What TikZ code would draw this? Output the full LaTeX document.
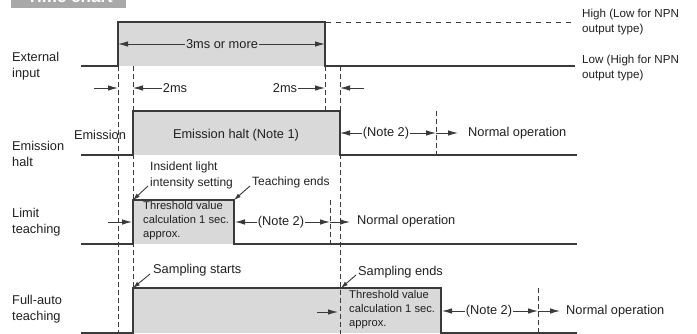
\documentclass[tikz,border=0pt]{standalone}
\usepackage{fontspec}
\setmainfont{Liberation Sans}
\usetikzlibrary{arrows.meta,positioning}
\definecolor{inkline}{HTML}{3A3A3A}
\definecolor{inktext}{HTML}{231F20}
\definecolor{haltfill}{HTML}{D9D9D9}
\definecolor{titlegray}{HTML}{A8A8A8}
\tikzset{
  wave/.style={draw=inkline, line width=1.2pt, line join=miter},
  timemark/.style={draw=inkline, line width=0.9pt, dash pattern=on 5pt off 3pt},
  dimarrow/.style={-{Latex[length=10pt,width=5.5pt]}, draw=inkline, line width=0.9pt},
  pointer/.style={-{Latex[length=7pt,width=4.5pt]}, draw=inkline, line width=0.9pt},
  rowlabel/.style={font=\fontsize{12.8}{16}\selectfont, text=inktext, align=left, anchor=west, inner sep=0pt},
  bodytext/.style={font=\fontsize{12.8}{16}\selectfont, text=inktext, inner sep=0.8pt},
  smalltext/.style={font=\fontsize{11.2}{14}\selectfont, text=inktext, align=left, anchor=west, inner sep=0pt},
  calloutext/.style={font=\fontsize{12}{16}\selectfont, text=inktext, align=left, anchor=west, inner sep=0pt},
}
\begin{document}
\begin{tikzpicture}[x=1pt, y=-1pt]
  \useasboundingbox (0,0) rectangle (697,334);
  % title tab, cut by the top edge
  \fill[titlegray] (11,-24) rectangle (126,8);
  \node[font=\fontsize{17}{20}\bfseries, text=white, anchor=base, inner sep=0pt] (title) at (70,3) {Time chart};

  % grey levels
  \fill[haltfill] (118,22) rectangle (325,66);
  \fill[haltfill] (133,111) rectangle (340,155);
  \fill[haltfill] (133,200) rectangle (234,244);
  \fill[haltfill] (133,288) rectangle (441,333);

  % timing marks
  \foreach \x/\ya/\yb in {118/66/334, 133/66/334, 325/66/111, 340/66/334, 436/111/155, 330/200/244, 538/288/333}
    \draw[timemark] (\x,\ya) -- (\x,\yb);

  % waveforms
  \draw[wave] (81,66) -- (118,66) -- (118,22) -- (325,22) -- (325,66) -- (575,66);
  \draw[draw=inkline, line width=0.9pt, dash pattern=on 5pt off 5pt] (326,22) -- (575,22);
  \draw[wave] (81,155) -- (133,155) -- (133,111) -- (340,111) -- (340,155) -- (577,155);
  \draw[wave] (81,244) -- (133,244) -- (133,200) -- (234,200) -- (234,244) -- (577,244);
  \draw[wave] (81,333) -- (133,333) -- (133,288) -- (441,288) -- (441,333) -- (577,333);

  % row labels
  \node[rowlabel] (extin) at (12,66) {External\\input};
  \node[rowlabel] (emhalt) at (12,154) {Emission\\halt};
  \node[rowlabel] (limteach) at (12,222) {Limit\\teaching};
  \node[rowlabel] (fullteach) at (12,309) {Full-auto\\teaching};
  \node[smalltext, font=\fontsize{11.6}{15}\selectfont] (highlvl) at (582,22) {High (Low for NPN\\output type)};
  \node[smalltext, font=\fontsize{11.6}{15}\selectfont] (lowlvl) at (582,68) {Low (High for NPN\\output type)};

  % external input
  \coordinate (inA) at (118,44);
  \coordinate (inB) at (325,44);
  \node[bodytext] (threems) at (222,44) {3ms or more};
  \draw[dimarrow] (threems) -- (inA);
  \draw[dimarrow] (threems) -- (inB);
  \coordinate (dA0) at (94,88);
  \coordinate (dA1) at (118,88);
  \coordinate (dB1) at (133,88);
  \coordinate (dC1) at (325,88);
  \coordinate (dD0) at (364,88);
  \coordinate (dD1) at (340,88);
  \node[bodytext] (twomsL) at (175,88) {2ms};
  \node[bodytext] (twomsR) at (285,88) {2ms};
  \draw[dimarrow] (dA0) -- (dA1);
  \draw[dimarrow] (twomsL) -- (dB1);
  \draw[dimarrow] (twomsR) -- (dC1);
  \draw[dimarrow] (dD0) -- (dD1);

  % emission halt
  \node[bodytext] (emis) at (100,135) {Emission};
  \node[bodytext] (emnote) at (236,135) {Emission halt (Note 1)};
  \coordinate (emA) at (340,133);
  \coordinate (emB) at (436,133);
  \coordinate (emC) at (458,133);
  \node[bodytext] (emwait) at (386,133) {(Note 2)};
  \draw[dimarrow] (emwait) -- (emA);
  \draw[dimarrow] (emwait) -- (emB);
  \draw[dimarrow] (emB) -- (emC);
  \node[bodytext, anchor=west, inner sep=0pt] (emnorm) at (468,133) {Normal operation};

  % limit teaching
  \coordinate (ltA) at (133,200);
  \coordinate (ltB) at (234,200);
  \coordinate (ltin0) at (108,222);
  \coordinate (ltin1) at (132,222);
  \draw[dimarrow] (ltin0) -- (ltin1);
  \node[smalltext] (ltcalc) at (143,221) {Threshold value\\calculation 1 sec.\\approx.};
  \node[calloutext] (insident) at (150,175) {Insident light\\intensity setting};
  \node[calloutext] (tchend) at (252,182) {Teaching ends};
  \coordinate (insptr) at (148,186);
  \coordinate (tchptr) at (250,186);
  \draw[pointer] (insptr) -- (ltA);
  \draw[pointer] (tchptr) -- (ltB);
  \coordinate (ltC) at (235,222);
  \coordinate (ltD) at (330,222);
  \coordinate (ltE) at (350,222);
  \node[bodytext] (ltwait) at (281,222) {(Note 2)};
  \draw[dimarrow] (ltwait) -- (ltC);
  \draw[dimarrow] (ltwait) -- (ltD);
  \draw[dimarrow] (ltD) -- (ltE);
  \node[bodytext, anchor=west, inner sep=0pt] (ltnorm) at (357,221) {Normal operation};

  % full-auto teaching
  \coordinate (faA) at (133,288);
  \coordinate (faB) at (341,288);
  \node[calloutext, font=\fontsize{12.8}{16}\selectfont] (sampst) at (153,270) {Sampling starts};
  \node[calloutext, font=\fontsize{12.8}{16}\selectfont] (sampend) at (358,272) {Sampling ends};
  \coordinate (stptr) at (150,274);
  \coordinate (endptr) at (356,275);
  \draw[pointer] (stptr) -- (faA);
  \draw[pointer] (endptr) -- (faB);
  \coordinate (fain0) at (317,312);
  \coordinate (fain1) at (338,312);
  \draw[dimarrow] (fain0) -- (fain1);
  \node[smalltext] (facalc) at (349,310) {Threshold value\\calculation 1 sec.\\approx.};
  \coordinate (faC) at (442,311);
  \coordinate (faD) at (538,311);
  \coordinate (faE) at (560,311);
  \node[bodytext] (fawait) at (489,311) {(Note 2)};
  \draw[dimarrow] (fawait) -- (faC);
  \draw[dimarrow] (fawait) -- (faD);
  \draw[dimarrow] (faD) -- (faE);
  \node[bodytext, anchor=west, inner sep=0pt] (fanorm) at (566,311) {Normal operation};
\end{tikzpicture}
\end{document}
